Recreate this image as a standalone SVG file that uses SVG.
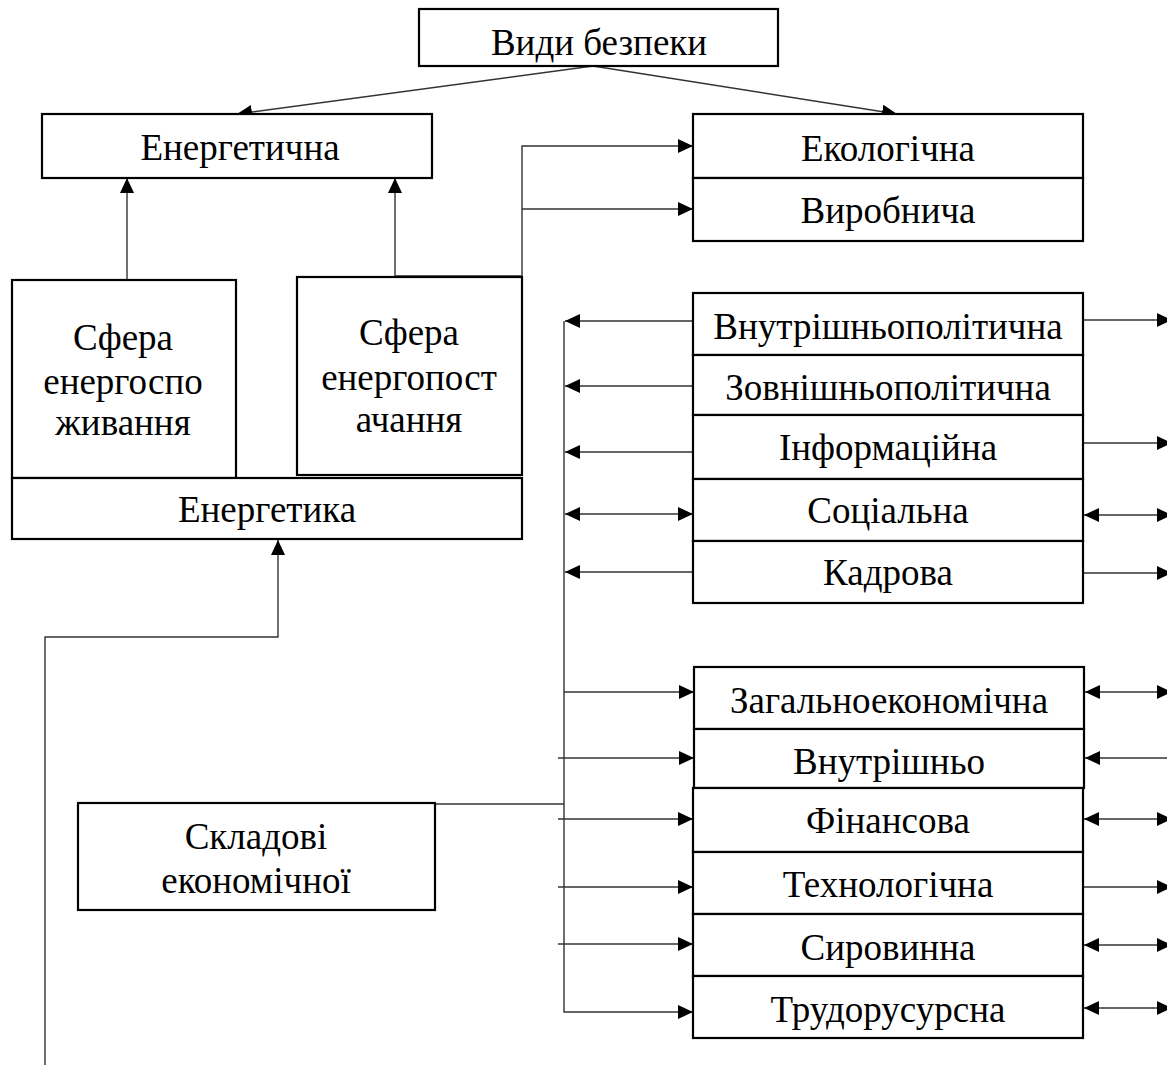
<svg xmlns="http://www.w3.org/2000/svg" width="1167" height="1075" viewBox="0 0 1167 1075">
<style>
.box{fill:#fff;stroke:#000;stroke-width:2.2}
.t{font-family:"Liberation Serif","Times New Roman",serif;font-size:37px;fill:#000;text-anchor:middle}
.c{fill:none;stroke:#333;stroke-width:1.4}
</style>
<defs>
<marker id="ah" markerUnits="userSpaceOnUse" markerWidth="15" markerHeight="14" viewBox="0 0 15 14" refX="15" refY="7" orient="auto-start-reverse">
<path d="M0,0 L15,7 L0,14 z" fill="#000"/>
</marker>
</defs>
<rect width="1167" height="1075" fill="#fff"/>
<g id="connectors">
<line class="c" x1="593" y1="66" x2="237" y2="114" marker-end="url(#ah)"/>
<line class="c" x1="593" y1="66" x2="897" y2="114" marker-end="url(#ah)"/>
<path class="c" d="M127,280 V178" marker-end="url(#ah)"/>
<path class="c" d="M395,276 V178" marker-end="url(#ah)"/>
<path class="c" d="M395,276 H522 V146 H693" marker-end="url(#ah)"/>
<path class="c" d="M522,209 H693" marker-end="url(#ah)"/>
<path class="c" d="M693,321 H565" marker-end="url(#ah)"/>
<path class="c" d="M693,386 H565" marker-end="url(#ah)"/>
<path class="c" d="M693,452 H565" marker-end="url(#ah)"/>
<path class="c" d="M565,514 H693" marker-start="url(#ah)" marker-end="url(#ah)"/>
<path class="c" d="M693,572 H565" marker-end="url(#ah)"/>
<path class="c" d="M564,321 V1012 H693" marker-end="url(#ah)"/>
<path class="c" d="M564,692 H694" marker-end="url(#ah)"/>
<path class="c" d="M435,804 H564"/>
<path class="c" d="M558,758 H694" marker-end="url(#ah)"/>
<path class="c" d="M558,819 H693" marker-end="url(#ah)"/>
<path class="c" d="M558,887 H693" marker-end="url(#ah)"/>
<path class="c" d="M558,944 H693" marker-end="url(#ah)"/>
<path class="c" d="M45,1065 V637 H278 V540" marker-end="url(#ah)"/>
<path class="c" d="M1083,320 H1172" marker-end="url(#ah)"/>
<path class="c" d="M1083,443 H1172" marker-end="url(#ah)"/>
<path class="c" d="M1084,515 H1172" marker-start="url(#ah)" marker-end="url(#ah)"/>
<path class="c" d="M1083,573 H1172" marker-end="url(#ah)"/>
<path class="c" d="M1085,692 H1172" marker-start="url(#ah)" marker-end="url(#ah)"/>
<path class="c" d="M1167,758 H1085" marker-end="url(#ah)"/>
<path class="c" d="M1084,819 H1172" marker-start="url(#ah)" marker-end="url(#ah)"/>
<path class="c" d="M1083,887 H1172" marker-end="url(#ah)"/>
<path class="c" d="M1084,945 H1172" marker-start="url(#ah)" marker-end="url(#ah)"/>
<path class="c" d="M1084,1008 H1172" marker-start="url(#ah)" marker-end="url(#ah)"/>
</g>
<g id="n-vydy"><rect class="box" x="419" y="9" width="359" height="57"/><text class="t" x="599" y="55">Види безпеки</text></g>
<g id="n-energetychna"><rect class="box" x="42" y="114" width="390" height="64"/><text class="t" x="240" y="160">Енергетична</text></g>
<g id="n-ekologichna"><rect class="box" x="693" y="114" width="390" height="64"/><text class="t" x="888" y="161">Екологічна</text></g>
<g id="n-vyrobnycha"><rect class="box" x="693" y="178" width="390" height="63"/><text class="t" x="888" y="223">Виробнича</text></g>
<g id="n-sfera1"><rect class="box" x="12" y="280" width="224" height="198"/><text class="t" x="123" y="350">Сфера</text><text class="t" x="123" y="394">енергоспо</text><text class="t" x="123" y="435">живання</text></g>
<g id="n-sfera2"><rect class="box" x="297" y="277" width="225" height="198"/><text class="t" x="409" y="345">Сфера</text><text class="t" x="409" y="390">енергопост</text><text class="t" x="409" y="432">ачання</text></g>
<g id="n-energetyka"><rect class="box" x="12" y="478" width="510" height="61"/><text class="t" x="267" y="522">Енергетика</text></g>
<g id="n-vnutrpol"><rect class="box" x="693" y="293" width="390" height="62"/><text class="t" x="888" y="339">Внутрішньополітична</text></g>
<g id="n-zovnpol"><rect class="box" x="693" y="355" width="390" height="60"/><text class="t" x="888" y="400">Зовнішньополітична</text></g>
<g id="n-inform"><rect class="box" x="693" y="415" width="390" height="64"/><text class="t" x="888" y="460">Інформаційна</text></g>
<g id="n-social"><rect class="box" x="693" y="479" width="390" height="62"/><text class="t" x="888" y="523">Соціальна</text></g>
<g id="n-kadrova"><rect class="box" x="693" y="541" width="390" height="62"/><text class="t" x="888" y="585">Кадрова</text></g>
<g id="n-zagal"><rect class="box" x="694" y="667" width="390" height="62"/><text class="t" x="889" y="713">Загальноекономічна</text></g>
<g id="n-vnutr"><rect class="box" x="694" y="729" width="390" height="59"/><text class="t" x="889" y="774">Внутрішньо</text></g>
<g id="n-finans"><rect class="box" x="693" y="788" width="390" height="64"/><text class="t" x="888" y="833">Фінансова</text></g>
<g id="n-tekhn"><rect class="box" x="693" y="852" width="390" height="62"/><text class="t" x="888" y="897">Технологічна</text></g>
<g id="n-syrov"><rect class="box" x="693" y="914" width="390" height="62"/><text class="t" x="888" y="960">Сировинна</text></g>
<g id="n-trudo"><rect class="box" x="693" y="976" width="390" height="62"/><text class="t" x="888" y="1022">Трудорусурсна</text></g>
<g id="n-skladovi"><rect class="box" x="78" y="803" width="357" height="107"/><text class="t" x="256" y="849">Складові</text><text class="t" x="256" y="893">економічної</text></g>
</svg>
